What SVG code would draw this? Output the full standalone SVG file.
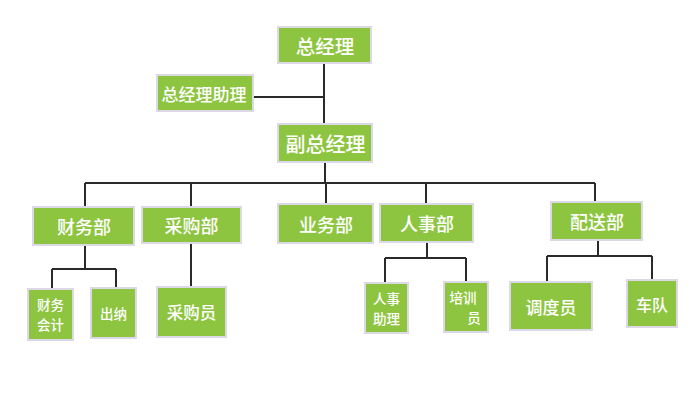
<svg xmlns="http://www.w3.org/2000/svg" width="700" height="394" viewBox="0 0 700 394">
<style>
.box{fill:#8dc540;stroke:#dcd8e6;stroke-width:2}
.t{fill:#fff;font-family:"Noto Sans CJK SC","Noto Sans",sans-serif;font-weight:500;text-anchor:middle;dominant-baseline:central}
.l{fill:none;stroke:#2a2a2a;stroke-width:2}
</style>
<rect width="700" height="394" fill="#fff"/>
<g id="connectors">
<path class="l" d="M324,63V124M253,97H324"/>
<path class="l" d="M325,162V183M85,183H595M85,183V207M191,183V207M326,183V204M426,183V204M595,183V202"/>
<path class="l" d="M85,245V269M52,269H116M52,269V289M116,269V288"/>
<path class="l" d="M191,243V287"/>
<path class="l" d="M427,242V258M385,258H466M385,258V283M466,258V282"/>
<path class="l" d="M598,240V256M547,256H652M547,256V282M652,256V280"/>
</g>
<g id="n1"><rect class="box" x="278" y="27" width="93" height="36"/><text class="t" x="325" y="45" font-size="19.5">总经理</text></g>
<g id="n2"><rect class="box" x="157" y="75" width="96" height="36"/><text class="t" x="204" y="93" font-size="17">总经理助理</text></g>
<g id="n3"><rect class="box" x="278" y="124" width="94" height="38"/><text class="t" x="325.5" y="143" font-size="20">副总经理</text></g>
<g id="n4"><rect class="box" x="33" y="207" width="101" height="38"/><text class="t" x="84" y="226" font-size="18">财务部</text></g>
<g id="n5"><rect class="box" x="142" y="207" width="99" height="36"/><text class="t" x="191.5" y="225" font-size="18">采购部</text></g>
<g id="n6"><rect class="box" x="278" y="204" width="95" height="39"/><text class="t" x="326" y="223.5" font-size="18">业务部</text></g>
<g id="n7"><rect class="box" x="380" y="204" width="93" height="38"/><text class="t" x="427" y="223" font-size="18">人事部</text></g>
<g id="n8"><rect class="box" x="551" y="202" width="91" height="38"/><text class="t" x="597" y="221" font-size="18">配送部</text></g>
<g id="n9"><rect class="box" x="28" y="289" width="45" height="51"/><text class="t" x="50.5" y="304" font-size="13.5">财务</text><text class="t" x="50.5" y="324" font-size="13.5">会计</text></g>
<g id="n10"><rect class="box" x="91" y="288" width="45" height="50"/><text class="t" x="113.5" y="313" font-size="13.5">出纳</text></g>
<g id="n11"><rect class="box" x="157" y="287" width="69" height="50"/><text class="t" x="191.5" y="312" font-size="16.5">采购员</text></g>
<g id="n12"><rect class="box" x="365" y="283" width="43" height="50"/><text class="t" x="386.5" y="298" font-size="13.5">人事</text><text class="t" x="386.5" y="318" font-size="13.5">助理</text></g>
<g id="n13"><rect class="box" x="444" y="282" width="44" height="50"/><text class="t" x="463" y="297" font-size="13.5">培训</text><text class="t" x="474" y="317" font-size="13.5">员</text></g>
<g id="n14"><rect class="box" x="510" y="282" width="82" height="48"/><text class="t" x="551" y="306" font-size="17">调度员</text></g>
<g id="n15"><rect class="box" x="627" y="280" width="50" height="47"/><text class="t" x="652" y="303.5" font-size="16">车队</text></g>
</svg>
